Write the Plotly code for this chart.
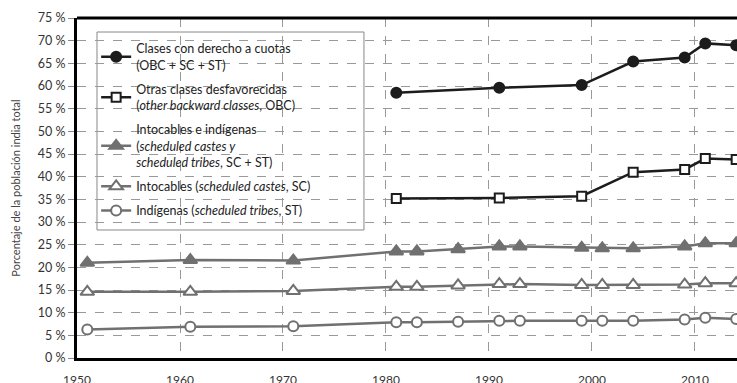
import plotly.graph_objects as go

years_quota = [1981, 1991, 1999, 2004, 2009, 2011, 2014]
quota = [58.5, 59.6, 60.2, 65.4, 66.3, 69.4, 69.0]
obc = [35.2, 35.3, 35.7, 41.0, 41.6, 44.0, 43.8]

years_scst = [1951, 1961, 1971, 1981, 1983, 1987, 1991, 1993, 1999, 2001, 2004, 2009, 2011, 2014]
sc_st = [21.0, 21.6, 21.5, 23.5, 23.5, 24.0, 24.6, 24.6, 24.3, 24.2, 24.2, 24.6, 25.3, 25.3]
sc = [14.6, 14.6, 14.8, 15.7, 15.7, 16.0, 16.3, 16.3, 16.1, 16.1, 16.1, 16.2, 16.5, 16.5]
st = [6.3, 6.9, 7.0, 7.9, 7.9, 8.0, 8.2, 8.2, 8.2, 8.2, 8.2, 8.5, 8.9, 8.6]

names = [
    "Clases con derecho a cuotas<br>(OBC + SC + ST)",
    "Otras clases desfavorecidas<br>(<i>other backward classes</i>, OBC)",
    "Intocables e indígenas<br>(<i>scheduled castes y<br>scheduled tribes</i>, SC + ST)",
    "Intocables (<i>scheduled castes</i>, SC)",
    "Indígenas (<i>scheduled tribes</i>, ST)",
]
y_ticks = list(range(0, 76, 5))
y_tick_text = [f"{v} %" for v in y_ticks]
x_ticks = list(range(1950, 2011, 10))

BLACK = "#1c1c1c"
GRAY = "#707070"

fig = go.Figure()
series = [
    (years_quota, quota, names[0], BLACK, "circle", BLACK, 10),
    (years_quota, obc, names[1], BLACK, "square", "white", 9),
    (years_scst, sc_st, names[2], GRAY, "triangle-up", GRAY, 12),
    (years_scst, sc, names[3], GRAY, "triangle-up", "white", 12),
    (years_scst, st, names[4], GRAY, "circle", "white", 10),
]
for i, (xs, ys, nm, col, sym, fill, sz) in enumerate(series):
    fig.add_trace(go.Scatter(
        x=xs, y=ys, name=nm, mode="lines+markers", legendgroup=f"g{i}",
        line=dict(color=col, width=2.5),
        marker=dict(symbol=sym, size=sz, color=fill, line=dict(color=col, width=2)),
    ))

# legend frame (white box hiding the grid)
fig.add_shape(type="rect", xref="paper", yref="paper",
              x0=0.0303, x1=0.4348, y0=0.3765, y1=0.9588,
              fillcolor="white", line=dict(color="#888", width=1), layer="between")
# top frame line
fig.add_shape(type="line", xref="paper", yref="paper", x0=0, x1=1, y0=1, y1=1,
              line=dict(color="black", width=3))

fig.update_layout(
    width=737, height=383,
    margin=dict(l=77, r=0, t=18, b=25),
    paper_bgcolor="white", plot_bgcolor="white",
    font=dict(family="Lato", size=12, color="#333"),
    showlegend=True,
    legend=dict(
        x=0.029, y=0.953, xanchor="left", yanchor="top",
        bgcolor="rgba(0,0,0,0)", borderwidth=0,
        font=dict(family="Lato", size=12.5, color="#222"),
        tracegroupgap=5,
    ),
    xaxis=dict(
        range=[1950, 2014.08], tickvals=x_ticks, showgrid=True, automargin=False,
        gridcolor="#999", griddash="dash", gridwidth=1,
        showline=True, linecolor="black", linewidth=3,
        ticks="", ticklen=0, zeroline=False, ticklabelstandoff=9,
        tickfont=dict(size=12, color="#333"),
    ),
    yaxis=dict(
        range=[0, 75], tickvals=y_ticks, ticktext=y_tick_text, showgrid=True, automargin=False,
        gridcolor="#999", griddash="dash", gridwidth=1,
        showline=True, linecolor="black", linewidth=3,
        ticks="outside", ticklen=6, tickcolor="#888", zeroline=False,
        tickfont=dict(size=12.5, color="#333"),
        title=dict(text="Porcentaje de la población india total", font=dict(size=11, color="#444"), standoff=15),
    ),
)

fig.write_html("out.html", post_script="document.body.style.margin='0';",
               config={"displayModeBar": False})
